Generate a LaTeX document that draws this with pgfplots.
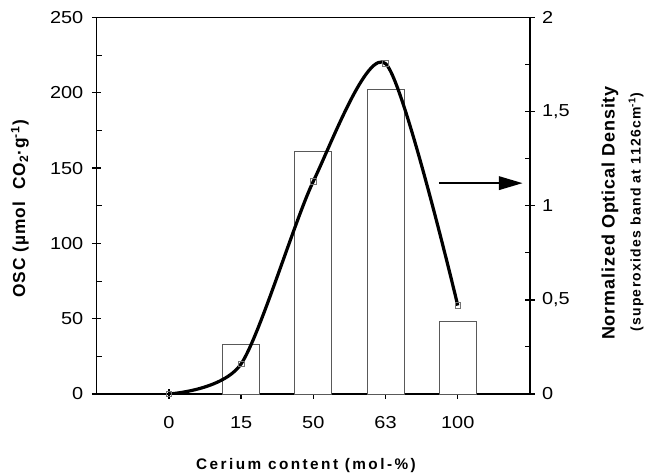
\documentclass[border=0pt]{standalone}
\usepackage{pgfplots}
\pgfplotsset{compat=1.18}
\usepackage{fontspec}
\setmainfont{Liberation Sans}
\newfontfamily\tickfont{Liberation Sans}[FakeStretch=1.15]
\newfontfamily\labfont{Liberation Sans}[LetterSpace=6]
\newfontfamily\xlabfont{Liberation Sans}[LetterSpace=16]
\newfontfamily\rlabfont{Liberation Sans}[LetterSpace=5]
\newfontfamily\rlabfontb{Liberation Sans}[LetterSpace=9]
\usetikzlibrary{arrows.meta}
\begin{document}
\begin{tikzpicture}
\useasboundingbox (0,0) rectangle (489.75pt,356.25pt);
\pgfplotsset{
  common/.style={
    at={(72.5pt,60.75pt)}, anchor=south west,
    scale only axis, width=325pt, height=282.4pt,
    xmin=-1, xmax=5,
    tick align=center, major tick length=7pt, minor tick length=4pt,
    major tick style={black, line width=1pt},
    minor tick style={black, line width=0.8pt},
    axis line style={-, line width=1.1pt},
    ticklabel style={font=\tickfont\fontsize{13}{15}\selectfont},
    /pgf/number format/assume math mode=true,
  }
}
\begin{axis}[common,
  ymin=0, ymax=250,
  xtick={0,1,2,3,4}, xticklabels={0,15,50,63,100},
  ytick={0,50,...,250}, minor ytick={25,75,...,225},
  xtick pos=bottom, ytick pos=left,
  minor tick style={black, line width=0.8pt, xshift=2pt},
  xticklabel style={yshift=-10pt},
  yticklabel style={xshift=-3pt},
]
\addplot[ybar, bar width=27.75pt, fill=white, draw=black!65, line width=0.6pt]
  coordinates {(1,33) (2,161) (3,202) (4,48)};
\draw[line width=2pt, -{Triangle[length=18pt,width=10pt]}] (axis cs:3.74,140) -- (axis cs:4.9,140);
\end{axis}
\begin{axis}[common,
  ymin=0, ymax=2,
  axis x line=none, axis y line*=right,
  ytick={0,0.5,1,1.5,2}, yticklabels={0,{0,5},1,{1,5},2},
  minor ytick={0.25,0.75,1.25,1.75},
  minor tick style={black, line width=0.8pt, xshift=-2pt},
  yticklabel style={xshift=2pt},
]
\addplot[smooth, tension=0.45, line width=2.4pt, black, mark=square, mark size=2.1pt,
  mark options={solid, draw=black!55, fill=white, line width=0.6pt}]
  coordinates {(0,0) (1,0.16) (2,1.13) (3,1.755) (4,0.47)};
\end{axis}
\node[rotate=90, font=\labfont\bfseries\fontsize{13}{15}\selectfont] at (15pt,199.5pt) {OSC (µmol\ \ CO\textsubscript{2}·g\textsuperscript{-1})};
\node[font=\xlabfont\bfseries\fontsize{11.5}{13}\selectfont] at (229.5pt,7pt) {Cerium content (mol-\%)};
\node[rotate=90, font=\rlabfont\bfseries\fontsize{13.5}{15}\selectfont] at (457.5pt,196.5pt) {Normalized Optical Density};
\node[rotate=90, font=\rlabfontb\bfseries\fontsize{10.5}{12}\selectfont] at (477pt,197.25pt) {(superoxides band at 1126cm\textsuperscript{-1})};
\end{tikzpicture}
\end{document}
